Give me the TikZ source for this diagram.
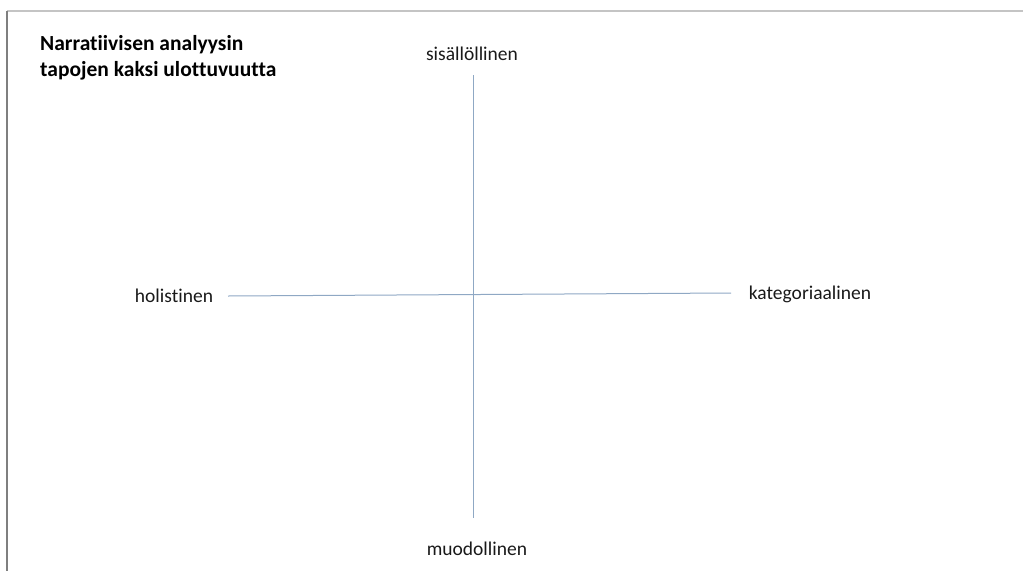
\documentclass[tikz,border=0pt]{standalone}
\usepackage{fontspec}
\setmainfont[Ligatures=NoCommon]{Carlito}
\usepackage{tikz}
\usetikzlibrary{positioning}
\definecolor{asse}{HTML}{8FA8C4}
\definecolor{cornice}{HTML}{C4C4C4}
\definecolor{bordo}{HTML}{7F7F7F}

\begin{document}
\begin{tikzpicture}[x=1pt,y=-1pt,
	etichetta/.style={font=\fontsize{19.5}{23}\selectfont, text=black!90},
	titolo/.style={font=\fontsize{21.5}{26}\selectfont\bfseries, align=left, anchor=north west, inner sep=0pt},
	asse/.style={draw=asse, line width=1pt}]
		\useasboundingbox (0,0) rectangle (1023,571);
		%Cornice
		\draw [cornice, line width=1.5pt] (7,11) -- (1023,11);
		\draw [bordo, line width=1.5pt] (7,11) -- (7,571);
		%Titolo
		\node [titolo] (titolo) at (40,35) {Narratiivisen analyysin\\tapojen kaksi ulottuvuutta};
		%Etichette
		\node [etichetta] (sopra) at (472,54) {sisällöllinen};
		\node [etichetta] (sotto) at (477,549) {muodollinen};
		\node [etichetta] (sinistra) at (174,296) {holistinen};
		\node [etichetta] (destra) at (810,294) {kategoriaalinen};
		%Assi
		\coordinate (a1) at (473,75);
		\coordinate (a2) at (473,518);
		\coordinate (b1) at (228,296);
		\coordinate (b2) at (731,293);
		\draw [asse] (a1) -- (a2);
		\draw [asse] (b1) -- (b2);
	\end{tikzpicture}
\end{document}
